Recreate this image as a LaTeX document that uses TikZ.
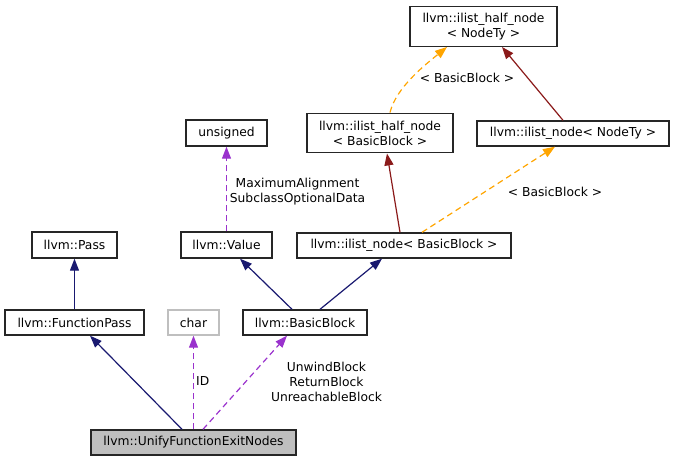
\documentclass[tikz,border=0pt]{standalone}
\usepackage{fontspec}
\setmainfont{DejaVu Sans}
\usetikzlibrary{arrows.meta,calc}
\definecolor{navyc}{HTML}{191970}
\definecolor{redc}{HTML}{8B1A1A}
\definecolor{purc}{HTML}{9A32CD}
\definecolor{orac}{HTML}{FFA500}
\definecolor{greyc}{HTML}{BFBFBF}
\begin{document}
\begin{tikzpicture}[x=1pt,y=-1pt,
  every node/.style={font=\fontsize{12.3}{15}\selectfont, inner sep=0pt, align=center},
  cls/.style={draw=black!85, line width=1.4pt, fill=white, minimum height=25pt},
  cls2/.style={cls, minimum height=39.5pt},
  lbl/.style={font=\fontsize{12.3}{15}\selectfont, align=center},
  tip/.style={-{Triangle[length=12pt,width=9pt]}},
  inh/.style={tip, draw=navyc, line width=1.2pt},
  tinh/.style={tip, draw=redc, line width=1.2pt},
  use/.style={tip, draw=purc, line width=1.2pt, dash pattern=on 6pt off 4pt},
  tmpl/.style={tip, draw=orac, line width=1.2pt, dash pattern=on 6pt off 4pt}]
\useasboundingbox (0,0) rectangle (675,461);

\node[cls2, minimum width=147pt] (hnt) at (483.5,26.5) {llvm::ilist\_half\_node\\< NodeTy >};
\node[cls2, minimum width=146pt] (hbb) at (380,133) {llvm::ilist\_half\_node\\< BasicBlock >};
\node[cls, minimum width=192pt] (int) at (573,133.5) {llvm::ilist\_node< NodeTy >};
\node[cls, minimum width=214pt] (inb) at (404,245.5) {llvm::ilist\_node< BasicBlock >};
\node[cls, minimum width=81pt, minimum height=26pt] (uns) at (226.5,133) {unsigned};
\node[cls, minimum width=91pt, minimum height=26pt] (val) at (226.5,245) {llvm::Value};
\node[cls, minimum width=85pt, minimum height=26pt] (pass) at (74.5,245) {llvm::Pass};
\node[cls, minimum width=139pt] (fp) at (74.5,322.5) {llvm::FunctionPass};
\node[cls, draw=greyc, minimum width=51pt] (chr) at (193.5,322.5) {char};
\node[cls, minimum width=124pt] (bb) at (305,322.5) {llvm::BasicBlock};
\node[cls, fill=greyc, minimum width=205pt] (ufen) at (193.5,442.5) {llvm::UnifyFunctionExitNodes};

% inheritance
\draw[inh] (fp.north) -- (pass.south);
\draw[inh] ([xshift=-11.5pt]ufen.north) -- ([xshift=15.5pt]fp.south);
\draw[inh] ([xshift=-13pt]bb.north) -- ([xshift=13.5pt]val.south);
\draw[inh] ([xshift=15pt]bb.north) -- ([xshift=-22pt]inb.south);
\draw[tinh] ([xshift=-4pt]inb.north) -- ([xshift=7pt]hbb.south);
\draw[tinh] ([xshift=-10pt]int.north) -- ([xshift=18.5pt]hnt.south);

% usage
\draw[use] (ufen.north) -- (chr.south);
\node[lbl, anchor=west] (lid) at (196,381) {ID};
\draw[use] ([xshift=9.5pt]ufen.north) -- ([xshift=-18pt]bb.south);
\node[lbl] (lbb) at (326.5,381.5) {UnwindBlock\\ReturnBlock\\UnreachableBlock};
\draw[use] (val.north) -- (uns.south);
\node[lbl] (lma) at (297.5,191.5) {MaximumAlignment\\SubclassOptionalData};

% templates
\draw[tmpl] ([xshift=10pt]hbb.north) .. controls +(6,-25) and +(-22,18) .. ([xshift=-36.5pt]hnt.south);
\node[lbl] (lt1) at (467,78) {< BasicBlock >};
\draw[tmpl] ([xshift=18pt]inb.north) -- ([xshift=-18pt]int.south);
\node[lbl] (lt2) at (555,192) {< BasicBlock >};
\end{tikzpicture}
\end{document}
